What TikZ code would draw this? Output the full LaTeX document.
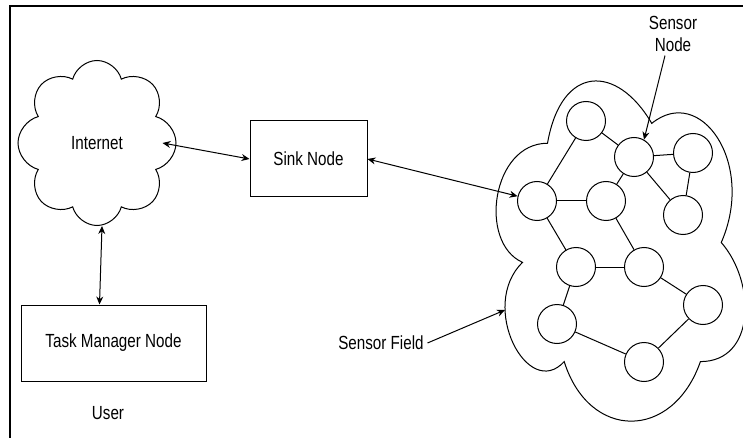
\documentclass[tikz,border=0pt]{standalone}
\usepackage{fontspec}
\setmainfont[FakeStretch=0.8]{Liberation Sans}
\usepackage{tikz}
\usetikzlibrary{arrows.meta}
\usetikzlibrary{shapes.symbols}

\begin{document}
\begin{tikzpicture}[
			     x=1pt, y=-1pt,
			     font=\fontsize{19}{22}\selectfont,
			     line width=1pt,
			     box/.style={draw, minimum width=117pt, minimum height=76pt},
			     sensor/.style={draw, circle, minimum size=39pt, inner sep=0pt},
			     both way/.style={{Stealth[length=8pt,width=7pt]}-{Stealth[length=8pt,width=7pt]}},
			     one way/.style={-{Stealth[length=8pt,width=7pt]}}
			     ]
\useasboundingbox (0,0) rectangle (743,438);
\draw[line width=2pt] (10,438) -- (10,6) -- (743,6);

\node[draw, cloud, cloud puffs=8, cloud puff arc=150, cloud ignores aspect,
      minimum width=158pt, minimum height=165pt, inner sep=0pt] (internet) at (97,143) {Internet};
\node[box] (sink) at (308.5,159) {Sink Node};
\node[box, minimum width=185pt] (task) at (113.5,343) {Task Manager Node};
\node (user) at (108,413) {User};

% sensor field
\begin{scope}[shift={(478,44)}, xscale=278, yscale=397]
\draw (0.25,0.25) .. controls (0.05,0.25) and (0,0.5) .. (0.16,0.55)
      .. controls (0,0.66) and (0.18,0.9) .. (0.31,0.8)
      .. controls (0.4,1) and (0.7,1) .. (0.8,0.8)
      .. controls (1,0.8) and (1,0.6) .. (0.875,0.5)
      .. controls (1,0.3) and (0.8,0.1) .. (0.625,0.2)
      .. controls (0.5,0.05) and (0.3,0.05) .. (0.25,0.25) -- cycle;
\end{scope}
\coordinate (fieldedge) at (505,310);

\foreach \n/\x/\y in {1/586/121, 2/634/157, 3/693/153, 4/537/201, 5/606/201, 6/683/215,
                      7/576/267, 8/644/267, 9/703/305, 10/557/324, 11/644/362}
  \node[sensor] (s\n) at (\x,\y) {};
\foreach \a/\b in {1/4, 1/2, 2/3, 2/5, 2/6, 3/6, 4/5, 4/7, 5/8, 7/8, 8/9, 7/10, 10/11, 9/11}
  \draw (s\a) -- (s\b);

\node (fieldlbl) at (381,343) {Sensor Field};
\node[align=center] (nodelbl) at (673,34) {Sensor\\Node};

\draw[both way] ([xshift=-14pt]internet.east) -- (sink.west);
\draw[both way] ([xshift=5pt]internet.south) -- ([xshift=-14pt]task.north);
\draw[both way] (sink.east) -- (s4);
\draw[one way] (fieldlbl.east) -- (fieldedge);
\draw[one way] ([xshift=-8pt]nodelbl.south) -- (s2.60);
\end{tikzpicture}
\end{document}
